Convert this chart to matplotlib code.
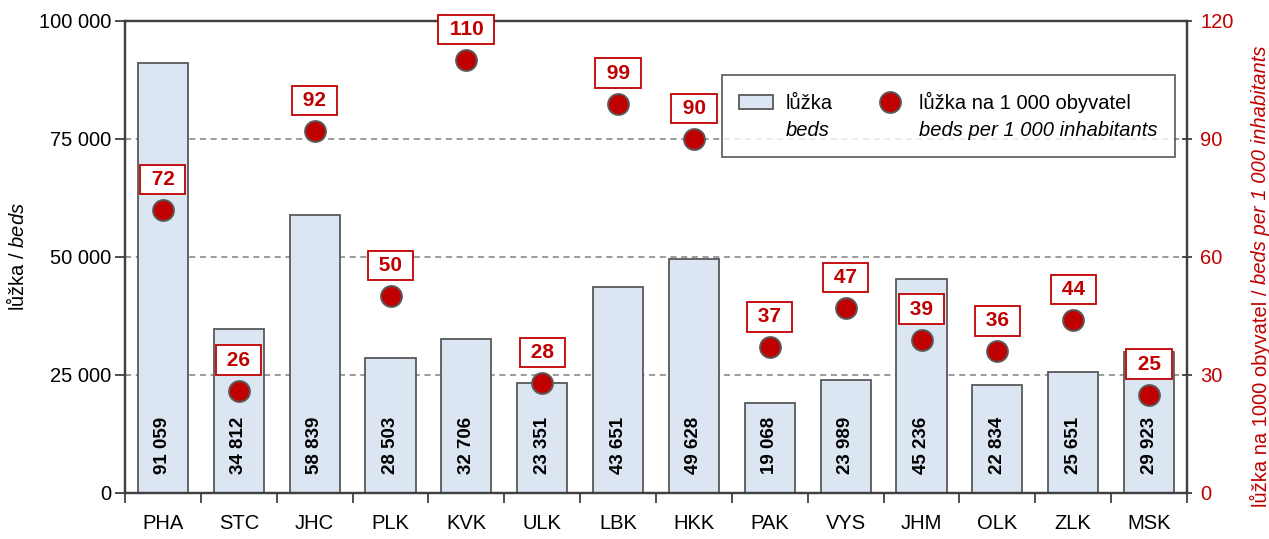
import numpy as np
import matplotlib.pyplot as plt
from matplotlib.lines import Line2D
from matplotlib.patches import Patch

plt.rcParams['font.family'] = ['Liberation Sans', 'DejaVu Sans']
plt.rcParams['mathtext.fontset'] = 'custom'
plt.rcParams['mathtext.rm'] = 'Liberation Sans'
plt.rcParams['mathtext.it'] = 'Liberation Sans:italic'

regions = ['PHA', 'STC', 'JHC', 'PLK', 'KVK', 'ULK', 'LBK', 'HKK', 'PAK', 'VYS', 'JHM', 'OLK', 'ZLK', 'MSK']
beds = [91059, 34812, 58839, 28503, 32706, 23351, 43651, 49628, 19068, 23989, 45236, 22834, 25651, 29923]
beds_per_1000 = [72, 26, 92, 50, 110, 28, 99, 90, 37, 47, 39, 36, 44, 25]

red = '#C00000'
dark = '#404040'
fs = 14.5


def fmt(v):
    return f'{v:,}'.replace(',', ' ')


fig = plt.figure(figsize=(12.69, 5.39), dpi=100)
ax = fig.add_axes([125 / 1269, 1 - 493 / 539, (1187 - 125) / 1269, (493 - 21) / 539])
x = np.arange(len(regions))

ax.bar(x, beds, width=0.66, color='#DCE6F2', edgecolor='#595959', linewidth=1.3, zorder=2)
ax.set_xlim(-0.5, len(regions) - 0.5)
ax.set_ylim(0, 100000)
yt = [0, 25000, 50000, 75000, 100000]
ax.set_yticks(yt)
ax.set_yticklabels([fmt(v) for v in yt])
for g in [25000, 50000, 75000]:
    ax.axhline(g, color='#808080', ls=(0, (4, 3)), lw=1.1, zorder=1)

ax.set_xticks(x)
ax.set_xticklabels(regions)
ax.set_xticks(np.arange(-0.5, len(regions), 1), minor=True)
ax.tick_params(axis='x', which='major', length=0, pad=15, labelsize=fs)
ax.tick_params(axis='x', which='minor', length=7, direction='out', color=dark, width=1.3)
ax.tick_params(axis='y', length=7, direction='out', color=dark, width=1.3, labelsize=fs, pad=3)
for s in ax.spines.values():
    s.set_color(dark)
    s.set_linewidth(1.6)
ax.text(-0.102, 0.5, 'lůžka / $\\mathit{beds}$', transform=ax.transAxes, rotation=90,
        ha='center', va='center', fontsize=fs)

for xi, v in zip(x, beds):
    ax.text(xi, 4000, fmt(v), rotation=90, ha='center', va='bottom',
            fontsize=13.5, fontweight='bold', color='black', zorder=3)

ax2 = ax.twinx()
ax2.set_ylim(0, 120)
ax2.set_yticks([0, 30, 60, 90, 120])
ax2.tick_params(axis='y', length=7, direction='inout', color=dark, width=1.3,
                labelsize=fs, labelcolor=red, pad=6)
for s in ax2.spines.values():
    s.set_color(dark)
    s.set_linewidth(1.6)
ax2.plot(x, beds_per_1000, 'o', color=red, markeredgecolor='#595959',
         markeredgewidth=1.4, markersize=15, zorder=4, clip_on=False)
for xi, v in zip(x, beds_per_1000):
    ax2.annotate(' ' + str(v) + ' ', (xi, v), xytext=(0, 22), textcoords='offset points',
                 ha='center', va='center', fontsize=15, fontweight='bold', color=red,
                 bbox=dict(boxstyle='square,pad=0.25', fc='white', ec=red, lw=1.3),
                 annotation_clip=False)

# right axis label: regular part then italic part
r1 = ax2.text(1.069, -0.03, 'lůžka na 1000 obyvatel / ', transform=ax2.transAxes,
              rotation=90, ha='center', va='bottom', fontsize=fs, color=red)
ax2.annotate('beds per 1 000 inhabitants', xy=(0.5, 1), xycoords=r1, rotation=90,
             ha='center', va='bottom', fontsize=fs, color=red, style='italic')

blank = Line2D([], [], ls='none')
handles = [Patch(facecolor='#DCE6F2', edgecolor='#595959', lw=1.3), blank,
           Line2D([], [], marker='o', ls='none', color=red, markeredgecolor='#595959',
                  markeredgewidth=1.4, markersize=15), blank]
labels = ['lůžka', 'beds', 'lůžka na 1 000 obyvatel', 'beds per 1 000 inhabitants']
leg = ax2.legend(handles, labels, ncol=2, loc='upper left',
                 bbox_to_anchor=((722 - 125) / 1062, (493 - 75) / 472),
                 fontsize=fs, frameon=True, fancybox=False, edgecolor=dark,
                 columnspacing=2.0, handlelength=1.7, handletextpad=0.6,
                 labelspacing=0.4, borderpad=0.85, borderaxespad=0)
leg.get_frame().set_linewidth(1.3)
for t in leg.get_texts()[1::2]:
    t.set_style('italic')

fig.savefig('out.png', dpi=100)
